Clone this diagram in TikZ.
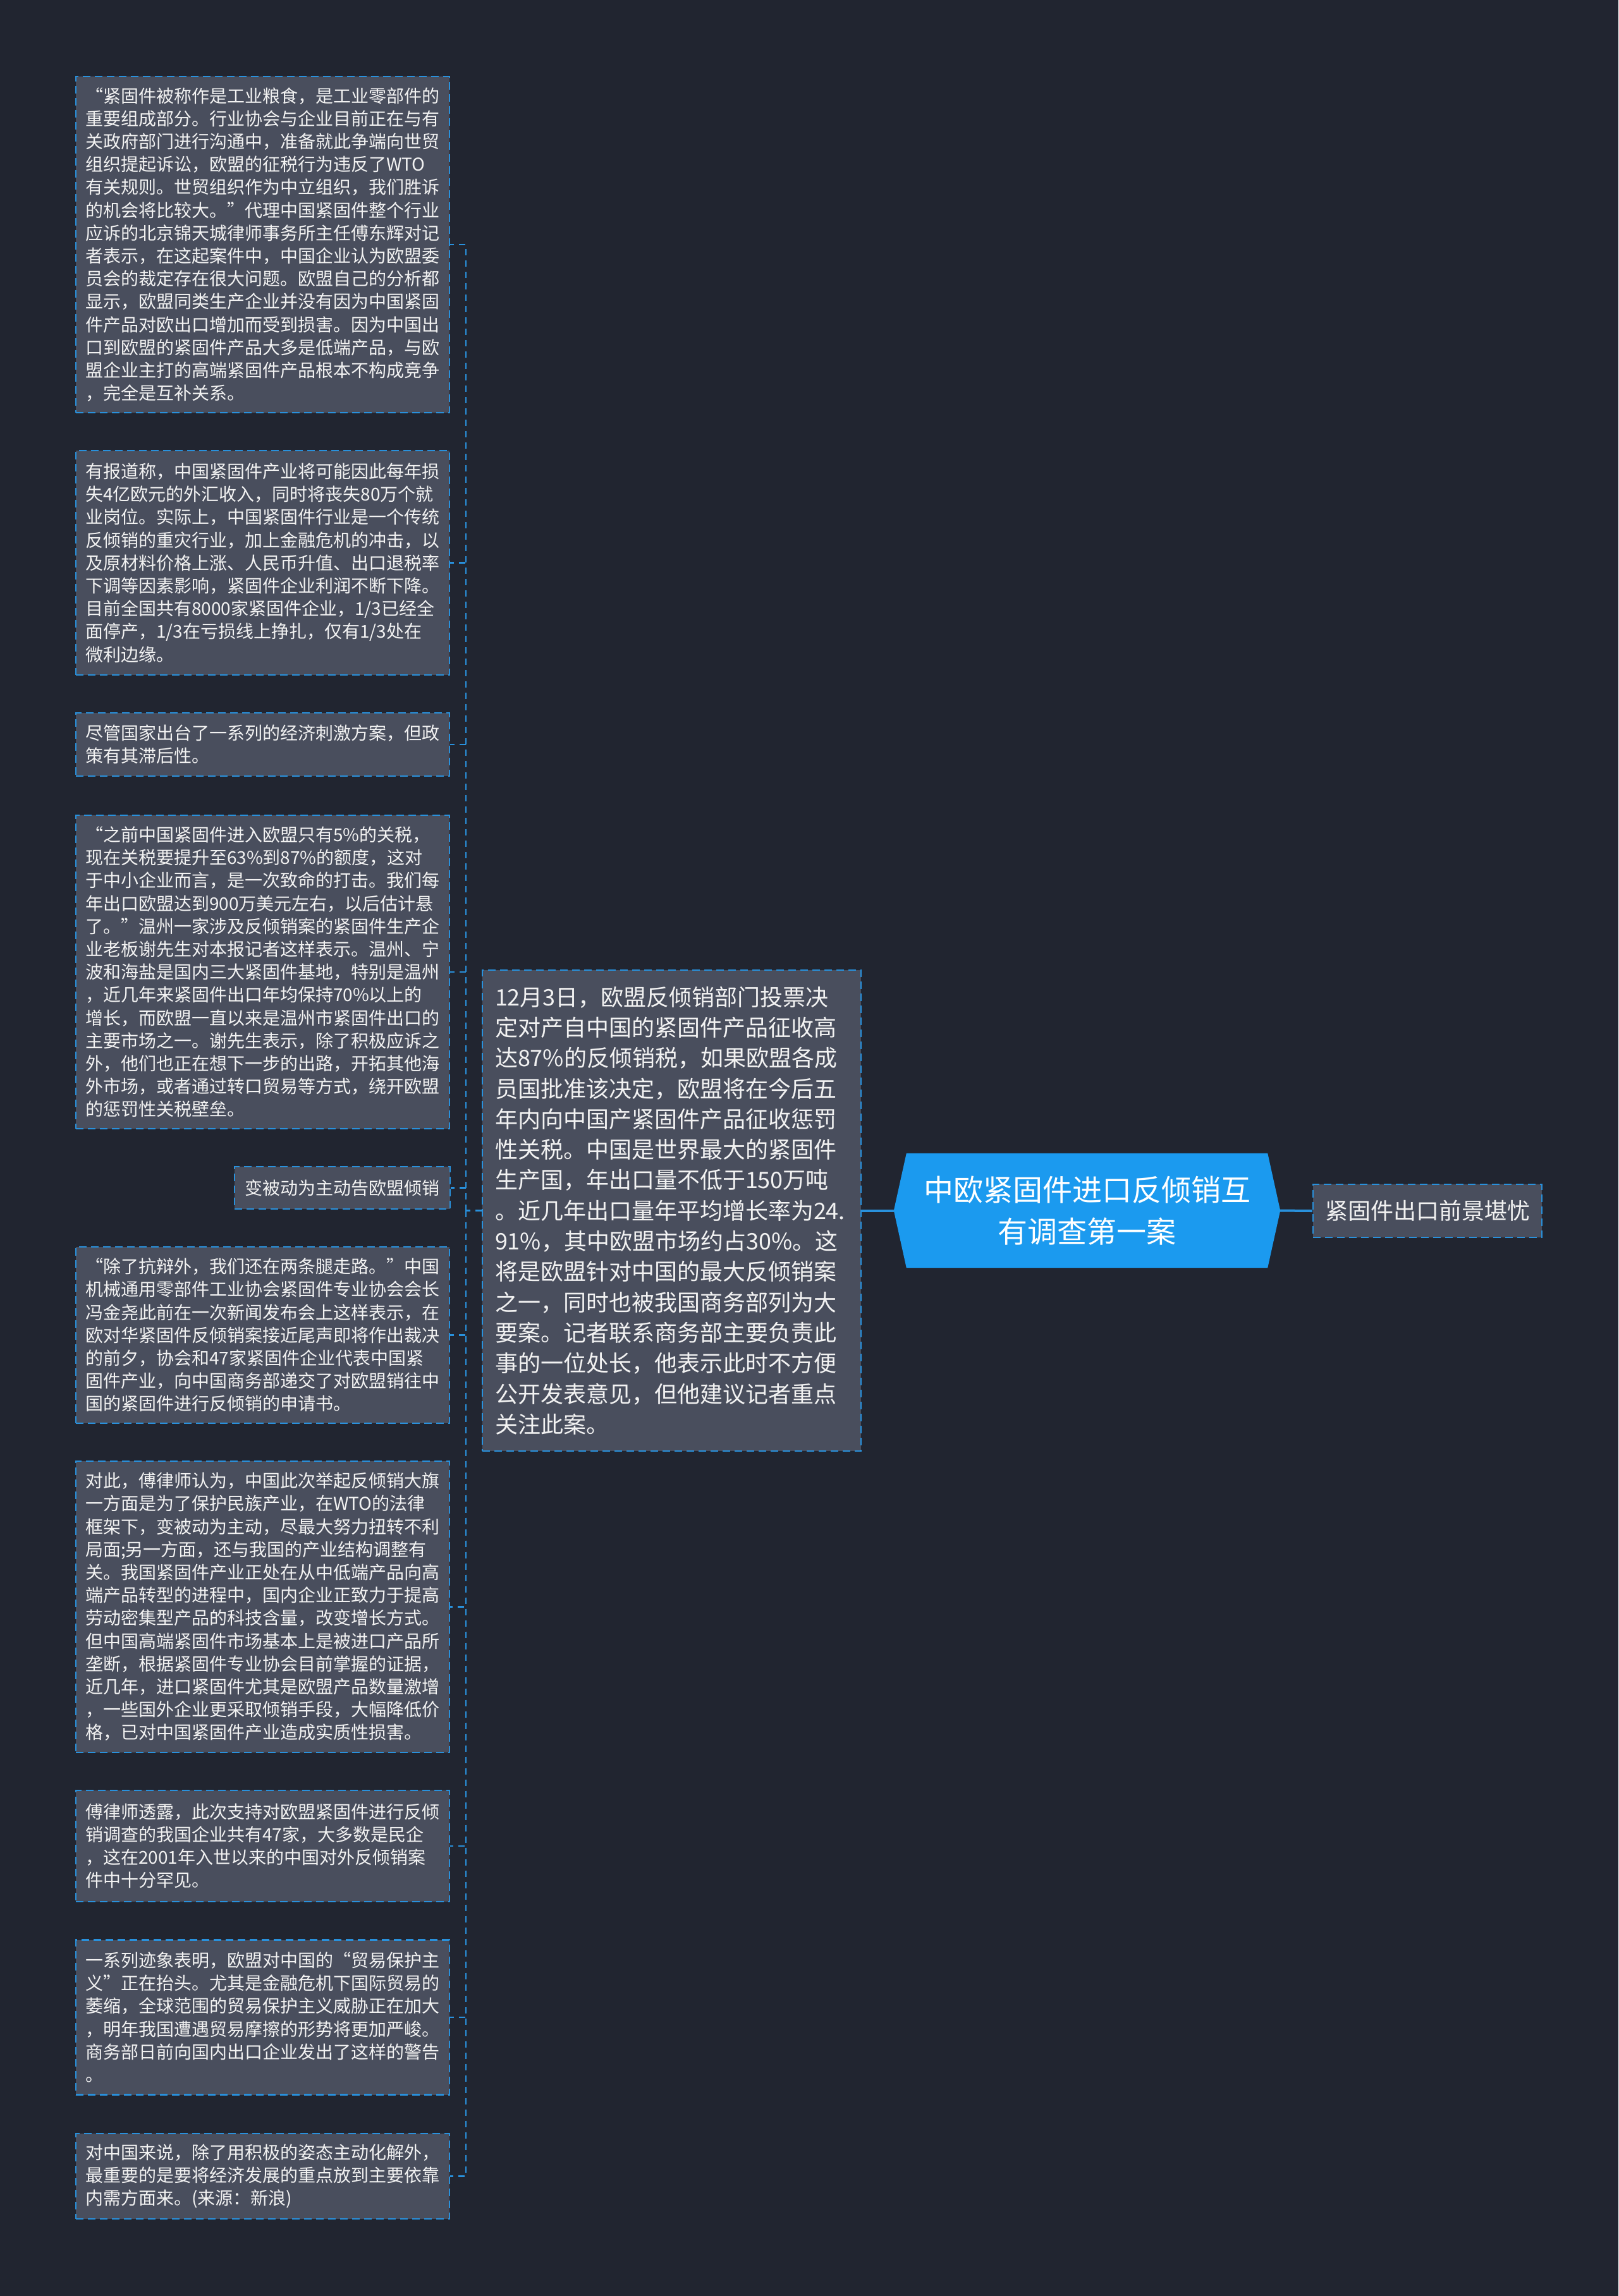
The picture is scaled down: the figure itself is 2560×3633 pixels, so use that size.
\documentclass[tikz,border=0pt]{standalone}
\usepackage{fontspec}
\setmainfont{Noto Sans CJK SC}
\usetikzlibrary{backgrounds,calc}
\definecolor{bgc}{HTML}{212530}
\definecolor{boxgrey}{HTML}{494E5D}
\definecolor{lineblue}{HTML}{2991DC}
\definecolor{rootblue}{HTML}{1B9AEF}
\definecolor{txt}{HTML}{F2F2F2}
\begin{document}
\begin{tikzpicture}[x=1pt,y=-1pt,
  leaf/.style={draw=lineblue, fill=boxgrey, dash pattern=on 12pt off 7pt, line width=2.5pt,
    text=txt, align=left, inner xsep=15pt, inner ysep=0pt,
    font=\fontsize{28}{36.2}\selectfont, text width=561pt},
  midbox/.style={draw=lineblue, fill=boxgrey, dash pattern=on 12pt off 7pt, line width=2.5pt,
    text=txt, align=left, inner xsep=20pt, inner ysep=0pt,
    font=\fontsize{36}{48.3}\selectfont, text width=559pt},
  conn/.style={draw=lineblue, dash pattern=on 10pt off 8pt, line width=2.5pt},
  solidconn/.style={draw=lineblue, line width=4pt}]
\useasboundingbox (0,0) rectangle (2560,3633);

\node[leaf, minimum height=532pt] (b1) at (415.5,387) {“紧固件被称作是工业粮食，是工业零部件的\\重要组成部分。行业协会与企业目前正在与有\\关政府部门进行沟通中，准备就此争端向世贸\\组织提起诉讼，欧盟的征税行为违反了WTO\\有关规则。世贸组织作为中立组织，我们胜诉\\的机会将比较大。”代理中国紧固件整个行业\\应诉的北京锦天城律师事务所主任傅东辉对记\\者表示，在这起案件中，中国企业认为欧盟委\\员会的裁定存在很大问题。欧盟自己的分析都\\显示，欧盟同类生产企业并没有因为中国紧固\\件产品对欧出口增加而受到损害。因为中国出\\口到欧盟的紧固件产品大多是低端产品，与欧\\盟企业主打的高端紧固件产品根本不构成竞争\\，完全是互补关系。};

\node[leaf, minimum height=355pt] (b2) at (415.5,890.5) {有报道称，中国紧固件产业将可能因此每年损\\失4亿欧元的外汇收入，同时将丧失80万个就\\业岗位。实际上，中国紧固件行业是一个传统\\反倾销的重灾行业，加上金融危机的冲击，以\\及原材料价格上涨、人民币升值、出口退税率\\下调等因素影响，紧固件企业利润不断下降。\\目前全国共有8000家紧固件企业，1/3已经全\\面停产，1/3在亏损线上挣扎，仅有1/3处在\\微利边缘。};

\node[leaf, minimum height=100pt] (b3) at (415.5,1178) {尽管国家出台了一系列的经济刺激方案，但政\\策有其滞后性。};

\node[leaf, minimum height=496pt] (b4) at (415.5,1538) {“之前中国紧固件进入欧盟只有5\%的关税，\\现在关税要提升至63\%到87\%的额度，这对\\于中小企业而言，是一次致命的打击。我们每\\年出口欧盟达到900万美元左右，以后估计悬\\了。”温州一家涉及反倾销案的紧固件生产企\\业老板谢先生对本报记者这样表示。温州、宁\\波和海盐是国内三大紧固件基地，特别是温州\\，近几年来紧固件出口年均保持70\%以上的\\增长，而欧盟一直以来是温州市紧固件出口的\\主要市场之一。谢先生表示，除了积极应诉之\\外，他们也正在想下一步的出路，开拓其他海\\外市场，或者通过转口贸易等方式，绕开欧盟\\的惩罚性关税壁垒。};

\node[leaf, minimum height=67pt, text width=311pt, align=center] (b5) at (541.5,1879.5) {变被动为主动告欧盟倾销};

\node[leaf, minimum height=279pt] (b6) at (415.5,2112.5) {“除了抗辩外，我们还在两条腿走路。”中国\\机械通用零部件工业协会紧固件专业协会会长\\冯金尧此前在一次新闻发布会上这样表示，在\\欧对华紧固件反倾销案接近尾声即将作出裁决\\的前夕，协会和47家紧固件企业代表中国紧\\固件产业，向中国商务部递交了对欧盟销往中\\国的紧固件进行反倾销的申请书。};

\node[leaf, minimum height=461pt] (b7) at (415.5,2542.5) {对此，傅律师认为，中国此次举起反倾销大旗\\一方面是为了保护民族产业，在WTO的法律\\框架下，变被动为主动，尽最大努力扭转不利\\局面;另一方面，还与我国的产业结构调整有\\关。我国紧固件产业正处在从中低端产品向高\\端产品转型的进程中，国内企业正致力于提高\\劳动密集型产品的科技含量，改变增长方式。\\但中国高端紧固件市场基本上是被进口产品所\\垄断，根据紧固件专业协会目前掌握的证据，\\近几年，进口紧固件尤其是欧盟产品数量激增\\，一些国外企业更采取倾销手段，大幅降低价\\格，已对中国紧固件产业造成实质性损害。};

\node[leaf, minimum height=176pt] (b8) at (415.5,2921) {傅律师透露，此次支持对欧盟紧固件进行反倾\\销调查的我国企业共有47家，大多数是民企\\，这在2001年入世以来的中国对外反倾销案\\件中十分罕见。};

\node[leaf, minimum height=245pt] (b9) at (415.5,3192) {一系列迹象表明，欧盟对中国的“贸易保护主\\义”正在抬头。尤其是金融危机下国际贸易的\\萎缩，全球范围的贸易保护主义威胁正在加大\\，明年我国遭遇贸易摩擦的形势将更加严峻。\\商务部日前向国内出口企业发出了这样的警告\\。};

\node[leaf, minimum height=135pt] (b10) at (415.5,3443.5) {对中国来说，除了用积极的姿态主动化解外，\\最重要的是要将经济发展的重点放到主要依靠\\内需方面来。(来源：新浪)};

\node[midbox, minimum height=761pt] (c) at (1062.5,1915.5) {12月3日，欧盟反倾销部门投票决\\定对产自中国的紧固件产品征收高\\达87\%的反倾销税，如果欧盟各成\\员国批准该决定，欧盟将在今后五\\年内向中国产紧固件产品征收惩罚\\性关税。中国是世界最大的紧固件\\生产国，年出口量不低于150万吨\\。近几年出口量年平均增长率为24.\\91\%，其中欧盟市场约占30\%。这\\将是欧盟针对中国的最大反倾销案\\之一，同时也被我国商务部列为大\\要案。记者联系商务部主要负责此\\事的一位处长，他表示此时不方便\\公开发表意见，但他建议记者重点\\关注此案。};

\node[font=\fontsize{47}{66}\selectfont, text=white, align=center, minimum width=611pt, minimum height=181pt, inner sep=0pt] (root) at (1719.5,1915.5) {中欧紧固件进口反倾销互\\有调查第一案};

\node[leaf, minimum height=84pt, text width=332pt, align=center, font=\fontsize{36}{44}\selectfont] (r) at (2258,1916) {紧固件出口前景堪忧};

\coordinate (t) at (737,1915.5);

\begin{scope}[on background layer]
  \fill[bgc] (0,0) rectangle (2560,3633);
  \fill[rootblue] (root.west) -- ($(root.north west)+(20,0)$) -- ($(root.north east)+(-20,0)$) -- (root.east) -- ($(root.south east)+(-20,0)$) -- ($(root.south west)+(20,0)$) -- cycle;
  \draw[conn] (c.west) -- (t);
  \foreach \b in {b1,b2,b3,b4,b5,b6,b7,b8,b9,b10} \draw[conn] (t) |- (\b.east);
  \draw[solidconn] (c.east) -- (root.west);
  \draw[solidconn] (root.east) -- (r.west);
\end{scope}
\end{tikzpicture}
\end{document}
